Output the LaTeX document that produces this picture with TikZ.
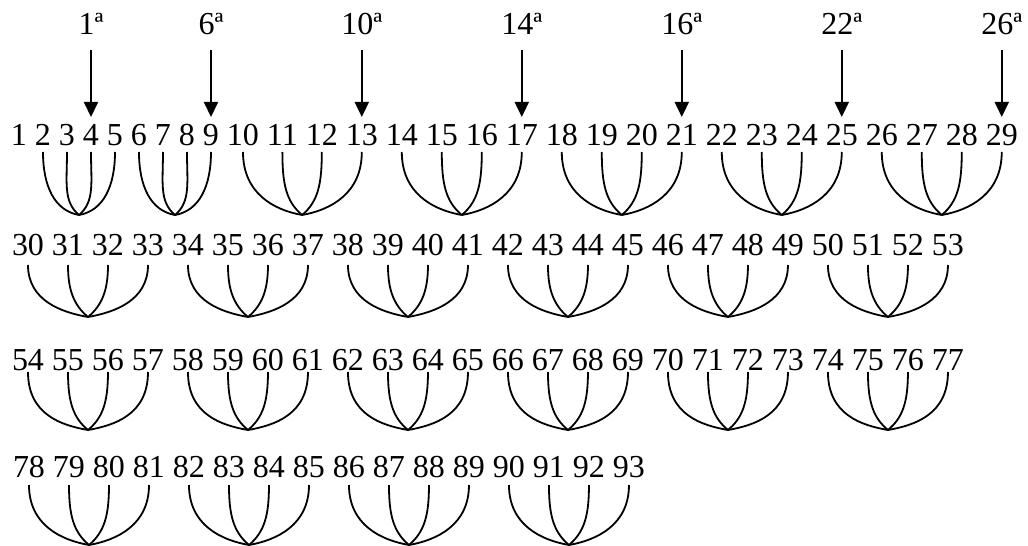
\documentclass[tikz,border=0pt]{standalone}
\usepackage{fontspec}
\setmainfont{Liberation Serif}
\usepackage{tikz}
\usetikzlibrary{arrows.meta,calc,positioning}
\definecolor{ink}{RGB}{0,0,0}
\tikzset{
  num/.style={
    inner sep=0pt, outer sep=0pt, text=ink,
    text height=5.5mm, text depth=0pt,
    font=\fontsize{22.76}{27.3}\selectfont,
  },
  lbl/.style={
    inner sep=0pt, outer sep=0pt, anchor=base, text=ink,
    font=\fontsize{22.76}{27.3}\selectfont,
  },
  arr/.style={-{Triangle[length=3.75mm,width=3.5mm]}, line width=0.45mm, draw=ink,
    shorten <=3.75mm, shorten >=1.5mm},
  bow/.style={line width=0.45mm, draw=ink},
  outerbow/.style={out=-90, in=#1, out looseness=1.35, in looseness=0.8},
  innerbow/.style={out=-90, in=#1, out looseness=1.35, in looseness=0.75},
}

\begin{document}
\begin{tikzpicture}[x=0.25mm,y=-0.25mm]
  \useasboundingbox (0,0) rectangle (1028,546);

  % Number rows
  \node[num, anchor=base west] (n1) at (11,145) {1};
  \foreach \i [remember=\i as \prev (initially 1)] in {2,...,29}
    \node[num, right=2mm of n\prev] (n\i) {\i};
  \node[num, anchor=base west] (n30) at (12,255) {30};
  \foreach \i [remember=\i as \prev (initially 30)] in {31,...,53}
    \node[num, right=2mm of n\prev] (n\i) {\i};
  \node[num, anchor=base west] (n54) at (12,370) {54};
  \foreach \i [remember=\i as \prev (initially 54)] in {55,...,77}
    \node[num, right=2mm of n\prev] (n\i) {\i};
  \node[num, anchor=base west] (n78) at (13,477) {78};
  \foreach \i [remember=\i as \prev (initially 78)] in {79,...,93}
    \node[num, right=2mm of n\prev] (n\i) {\i};

  % Ordinal labels and arrows
  \foreach \t/\s in {4/1,9/6,13/10,17/14,21/16,25/22,29/26} {
    \node[lbl] (l\t) at ($(n\t.base)+(0,-110)$) {\s ª};
    \draw[arr] (l\t.south) -- (n\t.north);
  }

  % Bows joining each group of four
  \foreach \first/\last/\dep/\gap in {2/26/70/1.75mm, 30/50/62/2.5mm, 54/74/60/0.5mm, 78/90/68/2mm} {
    \pgfmathtruncatemacro\second{\first+4}
    \foreach \k in {\first,\second,...,\last} {
      \pgfmathtruncatemacro\ka{\k+1}
      \pgfmathtruncatemacro\kb{\k+2}
      \pgfmathtruncatemacro\kc{\k+3}
      \coordinate (m\k) at ($(n\ka.base)!0.5!(n\kb.base)+(0,\dep)$);
      \draw[bow, shorten <=\gap] (n\k.south) to[outerbow=170] (m\k);
      \draw[bow, shorten <=\gap] (n\ka.south) to[innerbow=140] (m\k);
      \draw[bow, shorten <=\gap] (n\kb.south) to[innerbow=40] (m\k);
      \draw[bow, shorten <=\gap] (n\kc.south) to[outerbow=10] (m\k);
    }
  }
\end{tikzpicture}
\end{document}
